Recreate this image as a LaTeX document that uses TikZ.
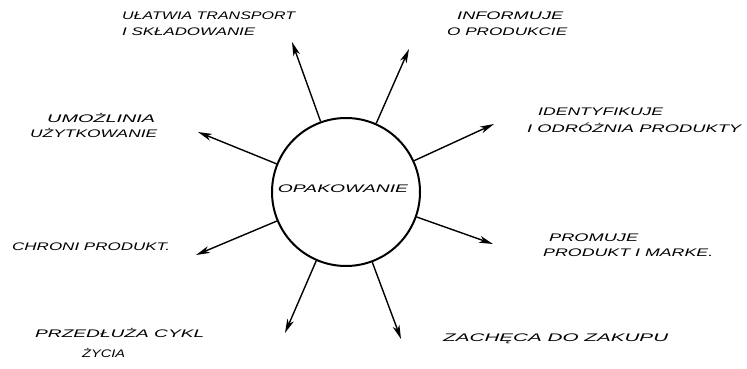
\documentclass[tikz,border=0pt]{standalone}
\usepackage{fontspec}
\setmainfont{Liberation Sans}
\usetikzlibrary{arrows.meta}
\newcommand{\hw}[2]{\resizebox{#1pt}{\height}{#2}}
\begin{document}
\begin{tikzpicture}[x=1pt,y=-1pt,
  lbl/.style={font=\itshape\fontsize{11}{13}\selectfont, inner sep=0pt, anchor=west},
  arr/.style={-{Stealth[length=14pt,width=7pt,inset=4pt]}, line width=1.4pt},
  hub/.style={circle, draw, line width=2pt, minimum size=148pt, inner sep=0pt}]
\useasboundingbox (0,0) rectangle (747,369);
\node[hub] (c) at (346,192) {};
\node[lbl, anchor=center] (o) at (343,189) {\hw{130}{OPAKOWANIE}};
% tips
\coordinate (t1) at (292,42);
\coordinate (t2) at (409,49);
\coordinate (t3) at (198,132);
\coordinate (t4) at (494,124);
\coordinate (t5) at (196,255);
\coordinate (t6) at (493,244);
\coordinate (t7) at (285,333);
\coordinate (t8) at (401,339);
\foreach \t in {t1,t2,t3,t4,t5,t6,t7,t8} \draw[arr] (c) -- (\t);
% labels
\node[lbl] (u1) at (122,16) {\hw{173}{UŁATWIA TRANSPORT}};
\node[lbl] (u2) at (122,32) {\hw{133}{I SKŁADOWANIE}};
\node[lbl] (i1) at (457,16) {\hw{106}{INFORMUJE}};
\node[lbl] (i2) at (447,32) {\hw{120}{O PRODUKCIE}};
\node[lbl] (d1) at (538,112) {\hw{125}{IDENTYFIKUJE}};
\node[lbl] (d2) at (527,128) {\hw{214}{I ODRÓŻNIA PRODUKTY}};
\node[lbl] (m1) at (47,118) {\hw{108}{UMOŻLINIA}};
\node[lbl] (m2) at (30,133) {\hw{127}{UŻYTKOWANIE}};
\node[lbl] (ch) at (12,247) {\hw{158}{CHRONI PRODUKT.}};
\node[lbl] (p1) at (549,238) {\hw{89}{PROMUJE}};
\node[lbl] (p2) at (543,253) {\hw{170}{PRODUKT I MARKE.}};
\node[lbl] (z1) at (35,333) {\hw{169}{PRZEDŁUŻA CYKL}};
\node[lbl] (z2) at (82,353) {\hw{43}{ŻYCIA}};
\node[lbl] (za) at (443,339) {\hw{225}{ZACHĘCA DO ZAKUPU}};
\end{tikzpicture}
\end{document}
